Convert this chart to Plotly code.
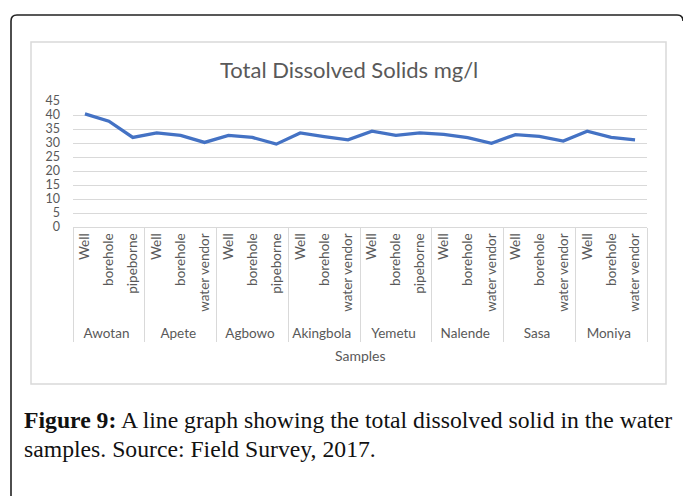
import plotly.graph_objects as go

towns = ["Awotan", "Apete", "Agbowo", "Akingbola", "Yemetu", "Nalende", "Sasa", "Moniya"]
sources = [
    ["Well", "borehole", "pipeborne"],
    ["Well", "borehole", "water vendor"],
    ["Well", "borehole", "pipeborne"],
    ["Well", "borehole", "water vendor"],
    ["Well", "borehole", "pipeborne"],
    ["Well", "borehole", "water vendor"],
    ["Well", "borehole", "water vendor"],
    ["Well", "borehole", "water vendor"],
]
tds = [40.4, 37.8, 32.0,
       33.6, 32.7, 30.2,
       32.7, 32.0, 29.6,
       33.6, 32.3, 31.1,
       34.2, 32.7, 33.6,
       33.1, 31.9, 29.9,
       33.0, 32.4, 30.7,
       34.2, 32.0, 31.1]
y_ticks = [0, 5, 10, 15, 20, 25, 30, 35, 40, 45]

grp = [t for t, s in zip(towns, sources) for _ in s]
sub = [x for s in sources for x in s]

W, H = 683, 496
L, R, T, B = 73, 647, 101, 227  # plot area pixels


def xp(px):
    return (px - L) / (R - L)


def yp(py):
    return (B - py) / (B - T)


FONT = "Lato"
GRAY = "#595959"
GRID = "#d9d9d9"

fig = go.Figure()
fig.add_trace(go.Scatter(
    x=[grp, sub], y=tds, mode="lines",
    line=dict(color="#4472C4", width=3.3),
    hoverinfo="skip",
))

# outer rounded frame
r = 6
path = (f"M {xp(11)} {yp(500)} L {xp(11)} {yp(15 + r)} "
        f"Q {xp(11)} {yp(15)} {xp(11 + r)} {yp(15)} "
        f"L {xp(683 - r)} {yp(15)} Q {xp(683)} {yp(15)} {xp(683)} {yp(15 + r)}")
shapes = [
    dict(type="path", xref="paper", yref="paper", path=path,
         line=dict(color="#222222", width=1.6)),
    dict(type="rect", xref="paper", yref="paper",
         x0=xp(31), x1=xp(666), y0=yp(384), y1=yp(42),
         line=dict(color=GRID, width=1.5), layer="below"),
]

annotations = [
    dict(text="Total Dissolved Solids mg/l", xref="paper", yref="paper",
         x=xp(349), y=yp(69), xanchor="center", yanchor="middle",
         showarrow=False, font=dict(family=FONT, size=22, color=GRAY)),
    dict(text="Samples", xref="paper", yref="paper",
         x=xp(360), y=yp(355), xanchor="center", yanchor="middle",
         showarrow=False, font=dict(family=FONT, size=14, color=GRAY)),
    dict(text="<b>Figure 9:</b> A line graph showing the total dissolved solid in the water",
         xref="paper", yref="paper", x=xp(22), y=yp(420),
         xanchor="left", yanchor="middle", showarrow=False,
         font=dict(family="Liberation Serif", size=23.7, color="#111111")),
    dict(text="samples. Source: Field Survey, 2017.",
         xref="paper", yref="paper", x=xp(22), y=yp(449),
         xanchor="left", yanchor="middle", showarrow=False,
         font=dict(family="Liberation Serif", size=23.7, color="#111111")),
]

fig.update_layout(
    width=W, height=H,
    margin=dict(l=L, r=W - R, t=T, b=H - B, pad=0),
    paper_bgcolor="white", plot_bgcolor="white",
    showlegend=False,
    shapes=shapes, annotations=annotations,
    xaxis=dict(
        type="multicategory", tickangle=-90,
        range=[-0.5, len(tds) - 0.5],
        showgrid=False, showline=True, linecolor=GRID, linewidth=1,
        showdividers=True, dividercolor=GRID, dividerwidth=1.2,
        ticks="", tickfont=dict(family=FONT, size=13.5, color=GRAY),
        zeroline=False,
    ),
    yaxis=dict(
        range=[0, 45], tickvals=y_ticks, showgrid=True, gridcolor=GRID,
        gridwidth=1.2, zeroline=False, showline=False, ticks="",
        ticklabelstandoff=12,
        tickfont=dict(family=FONT, size=12.5, color=GRAY),
    ),
)

fig.write_html("out.html", config={"displayModeBar": False},
               post_script="document.body.style.margin='0';")
